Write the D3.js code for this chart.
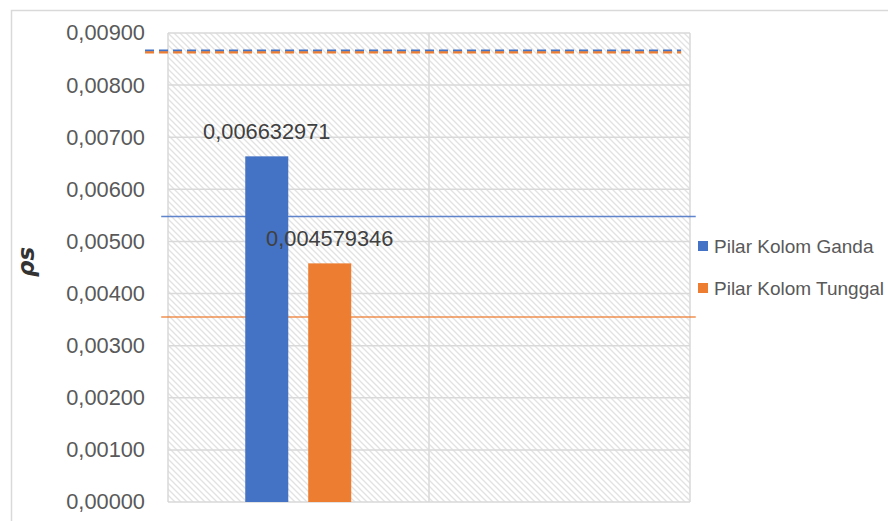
<!DOCTYPE html>
<html>
<head>
<meta charset="utf-8">
<script src="https://cdn.jsdelivr.net/npm/d3@7"></script>
<style>
  body { margin: 0; background: #fff; }
  svg { display: block; font-family: "Liberation Sans", Arial, sans-serif; }
</style>
</head>
<body>
<script>
// chart data
var categories = ["1", "2"];
var seriesNames = ["Pilar Kolom Ganda", "Pilar Kolom Tunggal"];
var seriesColors = ["#4472C4", "#ED7D31"];
var gandaValues = [0.006632971, null];
var tunggalValues = [0.004579346, null];
var barLabels = ["0,006632971", "0,004579346"];
var yTicks = [0, 0.001, 0.002, 0.003, 0.004, 0.005, 0.006, 0.007, 0.008, 0.009];
// limit lines (solid) and dashed lines, x given in 0..100 units of the plot width
var solidLineValues = [0.00548, 0.00355];
var solidLineX = [-1.3, 101.1];
var dashedLineValues = [0.00866, 0.00863];
var dashedLineX = [-4.4, 98.3];

var width = 888, height = 521;
var margin = {top: 33, right: 198, bottom: 19, left: 168},
    plotW = width - margin.left - margin.right,
    plotH = height - margin.top - margin.bottom;

var svg = d3.select("body").append("svg")
    .attr("width", width)
    .attr("height", height);

// hatch pattern
var defs = svg.append("defs");
var pat = defs.append("pattern")
    .attr("id", "hatch")
    .attr("patternUnits", "userSpaceOnUse")
    .attr("width", 6)
    .attr("height", 6);
pat.append("rect").attr("width", 6).attr("height", 6).attr("fill", "#fff");
pat.append("path")
    .attr("d", "M-1,-1 L7,7 M-4,2 L1,7 M2,-4 L7,1")
    .attr("stroke", "#e2e2e2")
    .attr("stroke-width", 1.3);

// outer border
svg.append("rect")
    .attr("x", 11.5).attr("y", 10.5)
    .attr("width", 900).attr("height", 540)
    .attr("fill", "none")
    .attr("stroke", "#d9d9d9")
    .attr("stroke-width", 1.5);

var g = svg.append("g")
    .attr("transform", "translate(" + margin.left + "," + margin.top + ")");

var x = d3.scaleBand()
    .domain(categories)
    .range([0, plotW])
    .padding(0);

var xSeries = d3.scaleBand()
    .domain(seriesNames)
    .range([x.bandwidth() * 0.296, x.bandwidth() * 0.702])
    .paddingInner(0.317);

var x2 = d3.scaleLinear().domain([0, 100]).range([0, plotW]);

var y = d3.scaleLinear()
    .domain([0, 0.009])
    .range([plotH, 0]);

g.append("rect")
    .attr("width", plotW)
    .attr("height", plotH)
    .attr("fill", "url(#hatch)");

// gridlines
g.selectAll(".hgrid")
    .data(yTicks)
  .enter().append("line")
    .attr("x1", 0).attr("x2", plotW)
    .attr("y1", function(d) { return y(d); })
    .attr("y2", function(d) { return y(d); })
    .attr("stroke", "#d9d9d9")
    .attr("stroke-width", 1.5);

var vLines = categories.map(function(c) { return x(c); }).concat([plotW]);
g.selectAll(".vgrid")
    .data(vLines)
  .enter().append("line")
    .attr("x1", function(d) { return d; })
    .attr("x2", function(d) { return d; })
    .attr("y1", 0).attr("y2", plotH)
    .attr("stroke", "#d9d9d9")
    .attr("stroke-width", 1.5);

// y axis labels
var fmt = function(d) { return d3.format(".5f")(d).replace(".", ","); };
var yAxis = d3.axisLeft(y).tickValues(yTicks).tickSize(0).tickPadding(23).tickFormat(fmt);
var ya = g.append("g").call(yAxis);
ya.select(".domain").remove();
ya.selectAll("text")
    .attr("fill", "#595959")
    .style("font-size", "21.8px")
    .style("font-family", "'Liberation Sans', Arial, sans-serif");

// solid limit lines
var line = d3.line()
    .x(function(d) { return x2(d[0]); })
    .y(function(d) { return y(d[1]); });

solidLineValues.forEach(function(v, i) {
    g.append("path")
        .attr("d", line(solidLineX.map(function(xx) { return [xx, v]; })))
        .attr("stroke", seriesColors[i])
        .attr("stroke-opacity", 0.85)
        .attr("stroke-width", 1.5)
        .attr("fill", "none");
});

dashedLineValues.forEach(function(v, i) {
    g.append("path")
        .attr("d", line(dashedLineX.map(function(xx) { return [xx, v]; })))
        .attr("stroke", seriesColors[i])
        .attr("stroke-width", 2.2)
        .attr("stroke-dasharray", "9,5")
        .attr("fill", "none");
});

// bars
var allSeries = [gandaValues, tunggalValues];
allSeries.forEach(function(vals, si) {
    var data = categories.map(function(c, ci) { return {cat: c, value: vals[ci]}; })
        .filter(function(d) { return d.value != null; });
    g.selectAll(".bar" + si)
        .data(data)
      .enter().append("rect")
        .attr("x", function(d) { return x(d.cat) + xSeries(seriesNames[si]); })
        .attr("width", xSeries.bandwidth())
        .attr("y", function(d) { return y(d.value); })
        .attr("height", function(d) { return plotH - y(d.value); })
        .attr("fill", seriesColors[si]);
    g.selectAll(".lab" + si)
        .data(data)
      .enter().append("text")
        .attr("x", function(d) { return x(d.cat) + xSeries(seriesNames[si]) + xSeries.bandwidth() / 2; })
        .attr("y", function(d) { return y(d.value) - 25; })
        .attr("dy", "0.35em")
        .attr("text-anchor", "middle")
        .attr("fill", "#404040")
        .style("font-size", "21.8px")
        .text(barLabels[si]);
});

// y axis title
svg.append("text")
    .attr("transform", "translate(34,262) rotate(-90)")
    .attr("text-anchor", "middle")
    .attr("fill", "#333")
    .style("font-size", "23px")
    .style("font-style", "italic")
    .style("font-weight", "bold")
    .style("font-family", "'DejaVu Sans', sans-serif")
    .text("ρs");

// legend
var legend = svg.append("g").attr("transform", "translate(698,246)");
seriesNames.forEach(function(name, i) {
    var row = legend.append("g").attr("transform", "translate(0," + (i * 42) + ")");
    row.append("rect")
        .attr("x", 0).attr("y", -5)
        .attr("width", 10).attr("height", 10)
        .attr("fill", seriesColors[i]);
    row.append("text")
        .attr("x", 16).attr("y", 0)
        .attr("dy", "0.35em")
        .attr("fill", "#595959")
        .style("font-size", "19px")
        .text(name);
});
</script>
</body>
</html>
